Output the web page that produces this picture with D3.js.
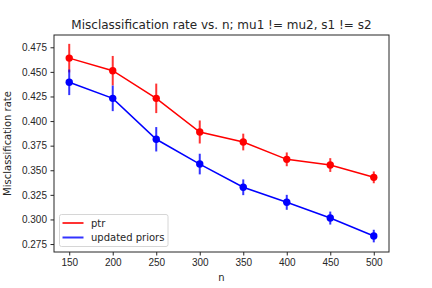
<!DOCTYPE html>
<html>
<head>
<meta charset="utf-8">
<script src="https://cdn.jsdelivr.net/npm/d3@7"></script>
<style>
  body { margin: 0; background: #fff; }
  svg { display: block; font-family: "DejaVu Sans", sans-serif; }
  .axis text { font-size: 10px; fill: #262626; }
  .axis path, .axis line { stroke: #262626; }
</style>
</head>
<body>
<div id="chart"></div>
<script>
var n_values = [150, 200, 250, 300, 350, 400, 450, 500];
var ptr_rate = [0.464, 0.4512, 0.4231, 0.3889, 0.3787, 0.3611, 0.3553, 0.3428];
var ptr_err = [0.0145, 0.015, 0.015, 0.0117, 0.0085, 0.007, 0.007, 0.006];
var upd_rate = [0.4394, 0.4231, 0.3815, 0.3563, 0.3327, 0.3174, 0.3014, 0.2831];
var upd_err = [0.013, 0.013, 0.0124, 0.0105, 0.008, 0.0076, 0.0066, 0.0064];
var x_ticks = [150, 200, 250, 300, 350, 400, 450, 500];
var y_ticks = [0.275, 0.300, 0.325, 0.350, 0.375, 0.400, 0.425, 0.450, 0.475];

var series = [
  { name: 'ptr', color: '#ff0000', rate: ptr_rate, err: ptr_err },
  { name: 'updated priors', color: '#0000ff', rate: upd_rate, err: upd_err }
];

var W = 432, H = 288;
var margin = { top: 35, bottom: 36, left: 54, right: 43 };
var width = W - margin.left - margin.right;
var height = H - margin.top - margin.bottom;

var svg = d3.select('#chart').append('svg')
  .attr('width', W)
  .attr('height', H);

var x = d3.scaleLinear().domain([132.5, 517.5]).range([0, width]);
var y = d3.scaleLinear().domain([0.2669, 0.4875]).range([height, 0]);

var g = svg.append('g')
  .attr('transform', `translate(${ margin.left }, ${ margin.top })`);

// axes
g.append('g')
  .attr('class', 'axis x-axis')
  .attr('transform', `translate(0, ${ height })`)
  .call(d3.axisBottom(x).tickValues(x_ticks).tickSize(3.5).tickPadding(3.5).tickFormat(d3.format('d')));

g.append('g')
  .attr('class', 'axis y-axis')
  .call(d3.axisLeft(y).tickValues(y_ticks).tickSize(3.5).tickPadding(3.5).tickFormat(d3.format('.3f')));

g.selectAll('.axis .domain').remove();

// series
series.forEach(s => {
  var pts = n_values.map((n, i) => ({ n: n, v: s.rate[i], e: s.err[i] }));

  g.append('g')
    .selectAll('line')
    .data(pts)
    .join('line')
    .attr('x1', d => x(d.n))
    .attr('x2', d => x(d.n))
    .attr('y1', d => y(d.v - d.e))
    .attr('y2', d => y(d.v + d.e))
    .attr('stroke', s.color)
    .attr('stroke-opacity', 0.8)
    .attr('stroke-width', 2);

  g.append('path')
    .datum(pts)
    .attr('fill', 'none')
    .attr('stroke', s.color)
    .attr('stroke-width', 1.5)
    .attr('d', d3.line().x(d => x(d.n)).y(d => y(d.v)));

  g.append('g')
    .selectAll('circle')
    .data(pts)
    .join('circle')
    .attr('cx', d => x(d.n))
    .attr('cy', d => y(d.v))
    .attr('r', 3.7)
    .attr('fill', s.color);
});

// frame
g.append('rect')
  .attr('width', width)
  .attr('height', height)
  .attr('fill', 'none')
  .attr('stroke', '#262626')
  .attr('stroke-width', 1);

// legend
var lg = g.append('g')
  .attr('transform', `translate(${ 59.5 - margin.left }, ${ 214.5 - margin.top })`);

lg.append('rect')
  .attr('width', 108.5)
  .attr('height', 32)
  .attr('rx', 2)
  .attr('fill', '#fff')
  .attr('fill-opacity', 0.8)
  .attr('stroke', '#d6d6d6');

series.forEach((s, i) => {
  var yy = 8.5 + i * 14.5;
  lg.append('line')
    .attr('x1', 3).attr('x2', 24)
    .attr('y1', yy).attr('y2', yy)
    .attr('stroke', s.color)
    .attr('stroke-opacity', 0.8)
    .attr('stroke-width', 2);
  lg.append('text')
    .attr('x', 31.5)
    .attr('y', yy)
    .attr('dy', '0.35em')
    .attr('font-size', 10)
    .attr('fill', '#262626')
    .text(s.name);
});

// title & labels
svg.append('text')
  .attr('x', margin.left + width / 2)
  .attr('y', 29)
  .attr('text-anchor', 'middle')
  .attr('font-size', 12)
  .attr('fill', '#262626')
  .text('Misclassification rate vs. n; mu1 != mu2, s1 != s2');

svg.append('text')
  .attr('x', margin.left + width / 2)
  .attr('y', 281)
  .attr('text-anchor', 'middle')
  .attr('font-size', 10)
  .attr('fill', '#262626')
  .text('n');

svg.append('text')
  .attr('transform', `translate(11, ${ margin.top + height / 2 }) rotate(-90)`)
  .attr('text-anchor', 'middle')
  .attr('font-size', 10)
  .attr('fill', '#262626')
  .text('Misclassification rate');
</script>
</body>
</html>
